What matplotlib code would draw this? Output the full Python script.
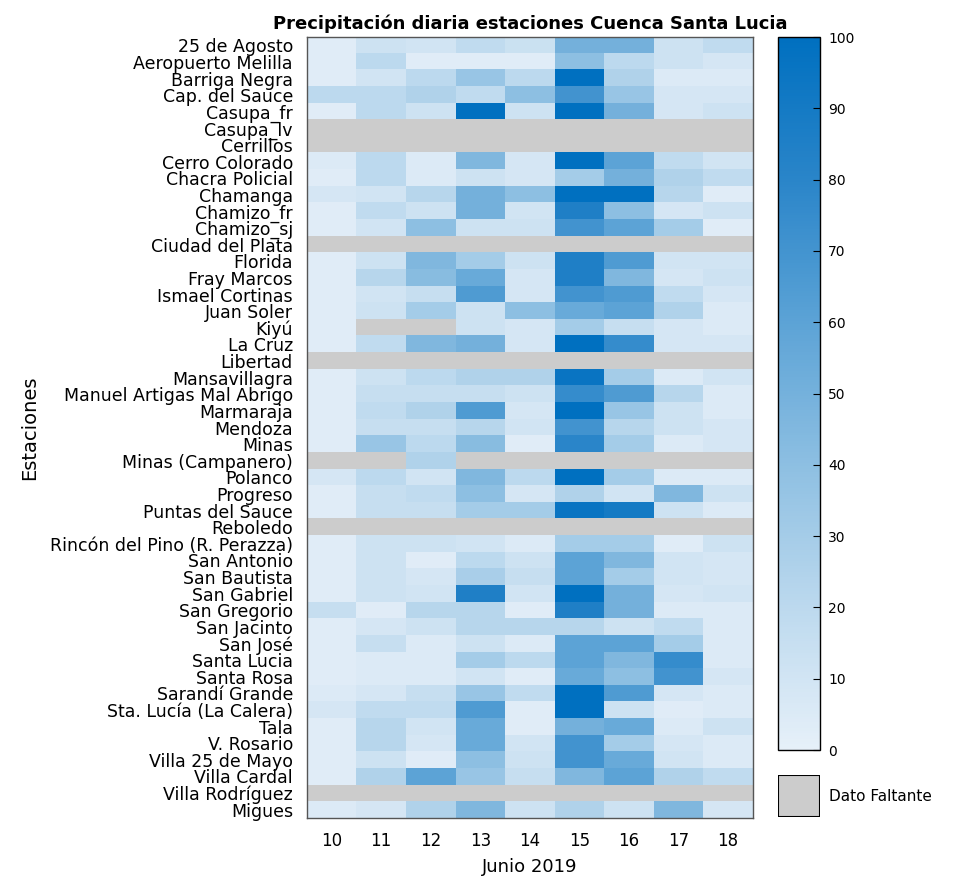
import numpy as np
import matplotlib
matplotlib.use("Agg")
import matplotlib.pyplot as plt
from matplotlib.colors import LinearSegmentedColormap
from matplotlib.patches import Rectangle

plt.rcParams['font.family'] = ['DejaVu Sans']

nan = np.nan

# estaciones (filas) y dias de junio 2019 (columnas)
stations = [
    "25 de Agosto", "Aeropuerto Melilla", "Barriga Negra", "Cap. del Sauce",
    "Casupa_fr", "Casupa_lv", "Cerrillos", "Cerro Colorado", "Chacra Policial",
    "Chamanga", "Chamizo_fr", "Chamizo_sj", "Ciudad del Plata", "Florida",
    "Fray Marcos", "Ismael Cortinas", "Juan Soler", "Kiyú", "La Cruz",
    "Libertad", "Mansavillagra", "Manuel Artigas Mal Abrigo", "Marmaraja",
    "Mendoza", "Minas", "Minas (Campanero)", "Polanco", "Progreso",
    "Puntas del Sauce", "Reboledo", "Rincón del Pino (R. Perazza)",
    "San Antonio", "San Bautista", "San Gabriel", "San Gregorio",
    "San Jacinto", "San José", "Santa Lucia", "Santa Rosa", "Sarandí Grande",
    "Sta. Lucía (La Calera)", "Tala", "V. Rosario", "Villa 25 de Mayo",
    "Villa Cardal", "Villa Rodríguez", "Migues",
]
days = [10, 11, 12, 13, 14, 15, 16, 17, 18]

# precipitacion (mm); nan = dato faltante
precip = [
    [3, 12, 10, 18, 13, 50, 50, 12, 18],
    [3, 20, 3, 3, 3, 40, 20, 12, 8],
    [3, 10, 20, 35, 20, 100, 25, 5, 5],
    [20, 20, 25, 18, 40, 70, 35, 8, 8],
    [3, 20, 12, 100, 12, 100, 50, 8, 12],
    [nan] * 9,
    [nan] * 9,
    [5, 20, 5, 45, 8, 100, 60, 18, 10],
    [3, 20, 5, 12, 8, 30, 50, 25, 18],
    [8, 10, 22, 50, 40, 100, 100, 22, 3],
    [3, 18, 12, 50, 10, 85, 40, 8, 12],
    [3, 10, 40, 12, 12, 70, 60, 30, 3],
    [nan] * 9,
    [3, 12, 45, 30, 12, 85, 65, 10, 10],
    [3, 22, 42, 55, 8, 85, 45, 8, 12],
    [3, 10, 15, 65, 8, 70, 65, 18, 8],
    [3, 12, 30, 12, 40, 55, 60, 25, 5],
    [3, nan, nan, 12, 8, 30, 15, 8, 5],
    [3, 18, 45, 50, 8, 100, 75, 8, 8],
    [nan] * 9,
    [3, 12, 20, 25, 25, 95, 30, 5, 10],
    [3, 15, 15, 15, 12, 75, 65, 22, 5],
    [3, 18, 25, 65, 8, 100, 35, 12, 5],
    [3, 15, 15, 22, 10, 70, 22, 12, 8],
    [3, 35, 20, 42, 3, 80, 30, 5, 8],
    [nan, nan, 25, nan, nan, nan, nan, nan, nan],
    [8, 20, 10, 45, 20, 100, 30, 5, 5],
    [3, 15, 18, 40, 8, 25, 10, 45, 12],
    [3, 15, 15, 30, 30, 95, 90, 12, 5],
    [nan] * 9,
    [3, 12, 12, 10, 5, 30, 30, 3, 12],
    [3, 12, 3, 20, 12, 60, 45, 10, 8],
    [3, 12, 8, 28, 15, 60, 30, 10, 8],
    [3, 12, 10, 85, 10, 100, 50, 8, 10],
    [15, 3, 22, 22, 3, 85, 50, 5, 5],
    [3, 8, 12, 22, 22, 22, 12, 18, 5],
    [3, 15, 5, 12, 5, 60, 60, 30, 5],
    [3, 5, 5, 30, 20, 60, 45, 75, 5],
    [3, 5, 5, 10, 3, 55, 40, 70, 8],
    [5, 8, 15, 35, 18, 100, 65, 8, 5],
    [8, 18, 18, 65, 3, 120, 12, 3, 5],
    [3, 22, 10, 55, 3, 50, 55, 5, 12],
    [3, 22, 8, 55, 10, 70, 30, 8, 5],
    [3, 12, 3, 40, 12, 70, 55, 10, 5],
    [3, 25, 60, 35, 15, 45, 60, 25, 18],
    [nan] * 9,
    [5, 8, 25, 45, 12, 25, 12, 45, 8],
]

data = np.ma.masked_invalid(np.array(precip, dtype=float))

cmap = LinearSegmentedColormap.from_list(
    "lluvia", ["#e6f0f9", "#bcd9ee", "#8dbfe2", "#5ca3d6", "#2a85c9", "#0070c0"])
cmap.set_bad("#cccccc")
cmap.set_over("#0070c0")

fig = plt.figure(figsize=(9.59, 8.83), dpi=100)
ax = fig.add_axes([0.320, 0.0736, 0.465, 0.8845])
im = ax.imshow(data, cmap=cmap, vmin=0, vmax=100, aspect="auto",
               interpolation="nearest")

ax.set_xticks(range(len(days)))
ax.set_xticklabels(days, fontsize=12)
ax.set_yticks(range(len(stations)))
ax.set_yticklabels(stations, fontsize=12.5)
ax.tick_params(length=0)
ax.tick_params(axis="x", pad=10)
ax.tick_params(axis="y", pad=10)
for s in ax.spines.values():
    s.set_color("#555555")
    s.set_linewidth(1)

ax.set_xlabel("Junio 2019", fontsize=13, labelpad=6)
ax.set_ylabel("Estaciones", fontsize=14, labelpad=8)
ax.set_title("Precipitación diaria estaciones Cuenca Santa Lucia",
             fontsize=13, fontweight="bold", pad=6)

# barra de colores
cax = fig.add_axes([0.811, 0.1506, 0.0438, 0.8074])
cb = fig.colorbar(im, cax=cax, ticks=range(0, 101, 10))
cb.outline.set_linewidth(1)
cax.tick_params(direction="in", length=5, labelsize=10, pad=6)

# caja de dato faltante
lax = fig.add_axes([0.811, 0.0747, 0.0438, 0.0476])
lax.add_patch(Rectangle((0, 0), 1, 1, facecolor="#cccccc",
                        edgecolor="black", linewidth=1.5,
                        transform=lax.transAxes))
lax.axis("off")
fig.text(0.864, 0.0985, "Dato Faltante", fontsize=11, va="center")

fig.savefig("out.png", dpi=100)
